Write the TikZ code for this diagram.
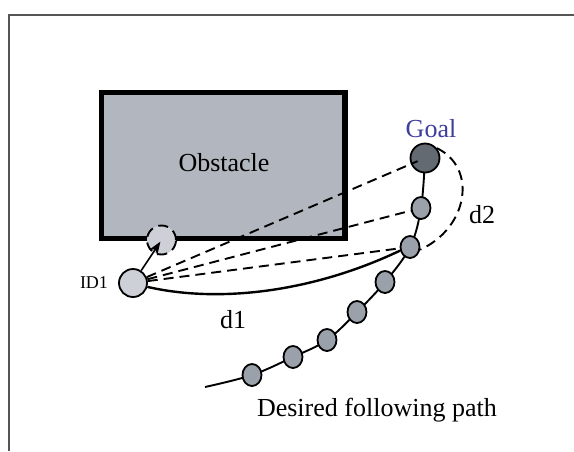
\documentclass[tikz,border=0pt]{standalone}
\usepackage{fontspec}
\setmainfont{Liberation Serif}
\usepackage{xcolor}
\usetikzlibrary{arrows.meta,shapes.geometric}
\definecolor{obst}{HTML}{B2B6BE}
\definecolor{robot}{HTML}{CDD0D7}
\definecolor{wpt}{HTML}{9BA1AA}
\definecolor{goalc}{HTML}{646A72}
\definecolor{goaltxt}{HTML}{3E3E9C}
\definecolor{frame}{HTML}{555555}

\begin{document}
\begin{tikzpicture}[x=0.5pt,y=-0.5pt,font=\fontsize{13}{15}\selectfont,>=Stealth]
\tikzstyle{wp}=[ellipse,draw,line width=0.9pt,fill=wpt,minimum width=9.5pt,minimum height=11pt,inner sep=0pt]
\tikzstyle{dsh}=[dashed,dash pattern=on 5pt off 3pt,line width=0.95pt]
\useasboundingbox (0,0) rectangle (574,451);
\draw[frame,line width=1pt] (9.3,451) -- (9.3,14.7) -- (574,14.7);
\draw[line width=2.6pt,fill=obst] (101.5,92.5) rectangle (345,238.5);
\node (obs) at (224,163) {Obstacle};
% desired path
\coordinate (tail) at (205,387);
\draw[line width=0.95pt] plot[smooth,tension=0.6] coordinates {(tail) (252,375) (293,357) (327,340) (357,312) (385,282) (410,247) (421,208) (425,158)};
\foreach \i/\p in {1/{252,375},2/{293,357},3/{327,340},4/{357,312},5/{385,282},6/{410,247},7/{421,208}}
  \node[wp] (w\i) at (\p) {};
\node[circle,draw,line width=0.9pt,fill=goalc,minimum size=14.5pt,inner sep=0pt] (goal) at (425,158) {};
\node[text=goaltxt] (goallbl) at (431,129) {Goal};
% robot and its ghost
\node[circle,draw,dsh,fill=robot,minimum size=14.5pt,inner sep=0pt] (ghost) at (161.5,240) {};
\node[circle,draw,line width=0.9pt,fill=robot,minimum size=14pt,inner sep=0pt] (id1) at (133,283) {};
\node[font=\fontsize{9}{10}\selectfont] (idlbl) at (94,283) {ID1};
\draw[->,line width=0.8pt,shorten >=1pt] (id1) -- (ghost.center);
% candidate links
\draw[dsh,shorten >=4pt] (id1) -- (goal.center);
\draw[dsh] (id1) -- (w7);
\draw[dsh] (id1) -- (w6);
\draw[line width=1.2pt] (id1.-15) .. controls (217,303) and (311,293) .. (w6.200);
\draw[dsh] (goal.40) .. controls (478,168) and (468,228) .. (w6.-15);
\node (d1) at (233,320) {d1};
\node (d2) at (482,215) {d2};
\node[anchor=base west] (cap) at (250,416.5) {Desired following path};
\end{tikzpicture}
\end{document}
